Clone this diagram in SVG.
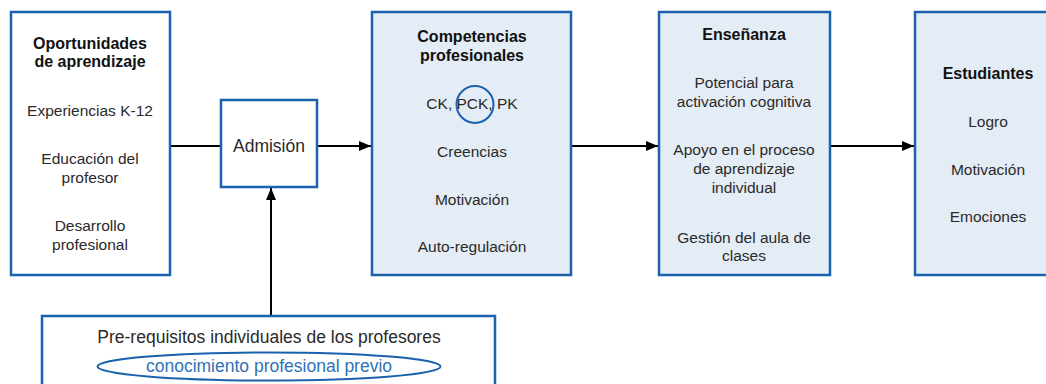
<svg xmlns="http://www.w3.org/2000/svg" width="1046" height="384" viewBox="0 0 1046 384">
<style>
.box{fill:#ffffff;stroke:#1a62ae;stroke-width:2.5}
.shaded{fill:#e4ecf5;stroke:#1a62ae;stroke-width:2.5}
.t{font-family:"Liberation Sans",Arial,sans-serif;font-size:15.5px;fill:#2a2a2a;text-anchor:middle}
.h{font-family:"Liberation Sans",Arial,sans-serif;font-size:16px;font-weight:bold;fill:#111;text-anchor:middle}
.big{font-size:17.5px}
.con{stroke:#000;stroke-width:2;fill:none}
.blue{fill:#2f72b8}
</style>
<defs>
<marker id="arr" viewBox="0 0 12 10" refX="12" refY="5" markerWidth="12" markerHeight="10" markerUnits="userSpaceOnUse" orient="auto">
<path d="M0,0 L12,5 L0,10 Z" fill="#000"/>
</marker>
</defs>
<rect width="1046" height="384" fill="#ffffff"/>
<g id="connectors">
<line class="con" x1="170" y1="146" x2="221" y2="146"/>
<line class="con" x1="317" y1="146" x2="371" y2="146" marker-end="url(#arr)"/>
<line class="con" x1="571" y1="146" x2="658" y2="146" marker-end="url(#arr)"/>
<line class="con" x1="830" y1="146" x2="914" y2="146" marker-end="url(#arr)"/>
<line class="con" x1="271" y1="316" x2="271" y2="188" marker-end="url(#arr)"/>
</g>
<g id="oportunidades">
<rect class="box" x="11" y="12" width="159" height="263"/>
<text class="h" x="90" y="49">Oportunidades</text>
<text class="h" x="90" y="67">de aprendizaje</text>
<text class="t" x="90" y="116">Experiencias K-12</text>
<text class="t" x="90" y="164">Educación del</text>
<text class="t" x="90" y="183">profesor</text>
<text class="t" x="90" y="231">Desarrollo</text>
<text class="t" x="90" y="250">profesional</text>
</g>
<g id="admision">
<rect class="box" x="221" y="100" width="96" height="87"/>
<text class="t big" x="269" y="152">Admisión</text>
</g>
<g id="competencias">
<rect class="shaded" x="372" y="12" width="199" height="263"/>
<text class="h" x="472" y="42">Competencias</text>
<text class="h" x="472" y="61">profesionales</text>
<text class="t" x="472" y="109">CK, PCK, PK</text>
<circle cx="475" cy="104.5" r="18.5" fill="none" stroke="#1a62ae" stroke-width="2"/>
<text class="t" x="472" y="157">Creencias</text>
<text class="t" x="472" y="205">Motivación</text>
<text class="t" x="472" y="252">Auto-regulación</text>
</g>
<g id="ensenanza">
<rect class="shaded" x="659" y="12" width="171" height="263"/>
<text class="h" x="744" y="40">Enseñanza</text>
<text class="t" x="744" y="88">Potencial para</text>
<text class="t" x="744" y="107">activación cognitiva</text>
<text class="t" x="744" y="155">Apoyo en el proceso</text>
<text class="t" x="744" y="174">de aprendizaje</text>
<text class="t" x="744" y="193">individual</text>
<text class="t" x="744" y="243">Gestión del aula de</text>
<text class="t" x="744" y="261">clases</text>
</g>
<g id="estudiantes">
<rect class="shaded" x="915" y="12" width="140" height="263"/>
<text class="h" x="988" y="79">Estudiantes</text>
<text class="t" x="988" y="127">Logro</text>
<text class="t" x="988" y="175">Motivación</text>
<text class="t" x="988" y="222">Emociones</text>
</g>
<g id="prerequisitos">
<rect class="box" x="42" y="316" width="453" height="80"/>
<text class="t big" x="269" y="343">Pre-requisitos individuales de los profesores</text>
<ellipse cx="269" cy="366.5" rx="171.5" ry="14" fill="none" stroke="#1a62ae" stroke-width="2"/>
<text class="t big blue" x="269" y="372">conocimiento profesional previo</text>
</g>
</svg>
